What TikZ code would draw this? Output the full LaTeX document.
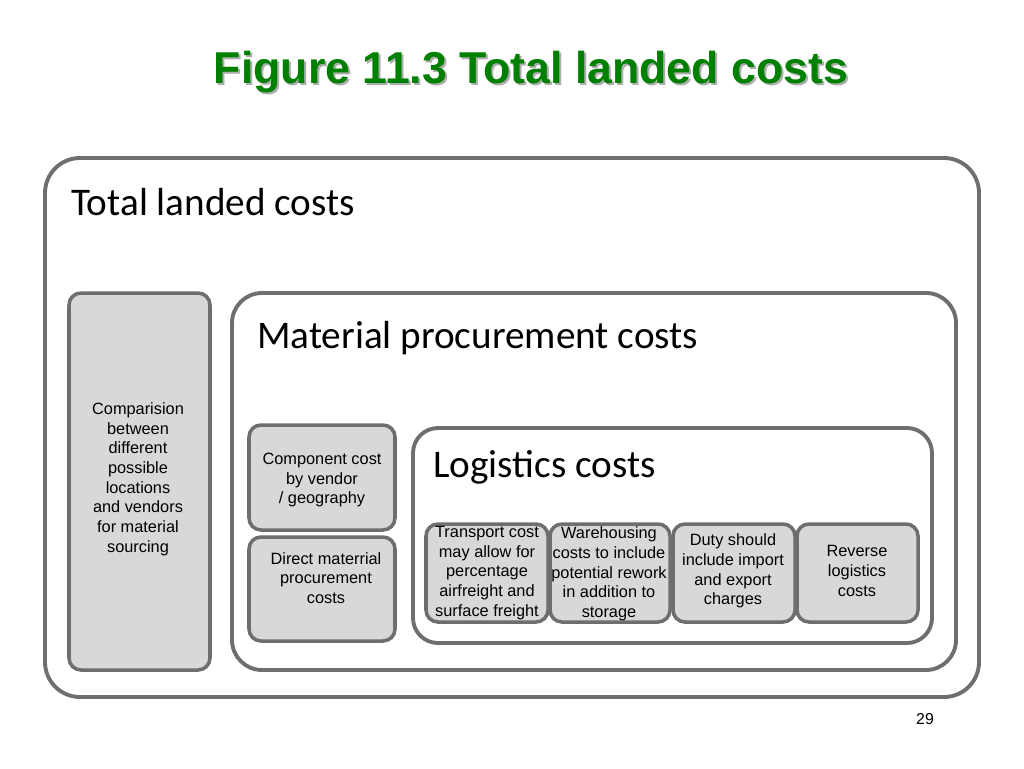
\documentclass[tikz,border=0pt]{standalone}
\usepackage{fontspec}
\setmainfont{Liberation Sans}
\newfontfamily\calib{Carlito}
\usetikzlibrary{fit}
\definecolor{bord}{HTML}{6E6E6E}
\definecolor{boxfill}{HTML}{D8D8D8}
\definecolor{titlegreen}{HTML}{008000}
\begin{document}
\begin{tikzpicture}[x=0.02cm,y=-0.02cm,
  frame/.style={draw=bord, line width=2.2pt, fill=white, inner sep=0pt, rounded corners=#1},
  graybox/.style={draw=bord, line width=2pt, fill=boxfill, inner sep=0pt, rounded corners=0.24cm},
  heading/.style={font=\calib\fontsize{22.3}{26}\selectfont, anchor=base west, inner sep=0pt},
  boxtext/.style={font=\fontsize{9.3}{11.2}\selectfont, align=center, inner sep=0pt, text=black}]
\useasboundingbox[fill=white] (0,0) rectangle (1024,768);
% title
\node[font=\bfseries\fontsize{25.4}{30}\selectfont, text=black!32, anchor=base, inner sep=0pt] (titleshadow) at (533,85) {Figure 11.3 Total landed costs};
\node[font=\bfseries\fontsize{25.4}{30}\selectfont, text=titlegreen, anchor=base, inner sep=0pt] (title) at (531,83) {Figure 11.3 Total landed costs};
% frames
\node[frame=0.7cm, fit={(45,158)(979,697)}] (outer) {};
\node[heading] (outerlbl) at (71,215) {Total landed costs};
\node[graybox, fit={(69,293)(210,670)}] (cmpbox) {};
\node[boxtext] (cmptext) at (138,479) {Comparision\\ between\\ different\\ possible\\ locations\\ and vendors\\ for material\\ sourcing};
\node[frame=0.6cm, fit={(232,293)(956,670)}] (mat) {};
\node[heading] (matlbl) at (257,348) {Material procurement costs};
\node[graybox, fit={(249,425)(395,530)}] (compbox) {};
\node[boxtext] (comptext) at (322,480) {Component cost\\ by vendor\\ / geography};
\node[graybox, fit={(249,537)(395,641)}] (dirbox) {};
\node[boxtext] (dirtext) at (326,578) {Direct materrial\\ procurement\\ costs};
\node[frame=0.5cm, fit={(413,428)(932,643)}] (log) {};
\node[heading] (loglbl) at (433,477) {Logistics costs};
\node[graybox, fit={(426,524)(548,622)}] (trbox) {};
\node[boxtext] (trtext) at (487,573) {Transport cost\\ may allow for\\ percentage\\ airfreight and\\ surface freight};
\node[graybox, fit={(550,524)(670,622)}] (whbox) {};
\node[boxtext] (whtext) at (609,574) {Warehousing\\ costs to include\\ potential rework\\ in addition to\\ storage};
\node[graybox, fit={(673,524)(795,622)}] (dubox) {};
\node[boxtext] (dutext) at (733,571) {Duty should\\ include import\\ and export\\ charges};
\node[graybox, fit={(797,524)(918,622)}] (rvbox) {};
\node[boxtext] (rvtext) at (857,571) {Reverse\\ logistics\\ costs};
% page number
\node[font=\fontsize{9}{11}\selectfont, anchor=base, inner sep=0pt] (pagenum) at (925,724) {29};
\end{tikzpicture}
\end{document}
